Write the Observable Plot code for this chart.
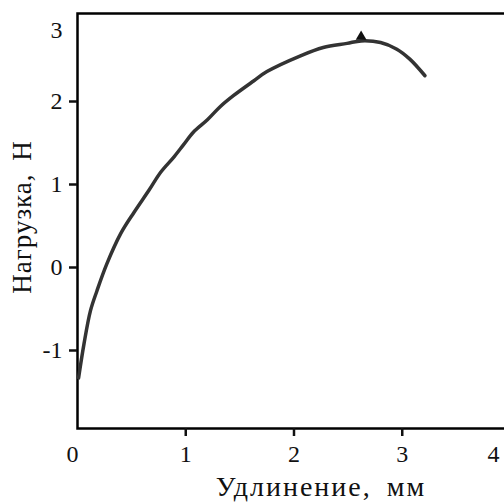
<!DOCTYPE html>
<html>
<head>
<meta charset="utf-8">
<script src="https://cdn.jsdelivr.net/npm/d3@7"></script>
<script src="https://cdn.jsdelivr.net/npm/@observablehq/plot@0.6"></script>
<style>
html, body { margin: 0; padding: 0; overflow: hidden; background: #fff; }
</style>
</head>
<body>
<div id="chart"></div>
<script>
const elongation = [0.01, 0.06, 0.12, 0.18, 0.27, 0.40, 0.52, 0.66, 0.77, 0.89, 0.98, 1.07, 1.20, 1.32, 1.44, 1.63, 1.75, 2.06, 2.27, 2.49, 2.62, 2.80, 2.95, 3.07, 3.21];
const load =       [-1.39, -0.98, -0.58, -0.34, -0.02, 0.35, 0.60, 0.87, 1.09, 1.27, 1.42, 1.57, 1.72, 1.88, 2.01, 2.19, 2.30, 2.49, 2.59, 2.64, 2.67, 2.65, 2.57, 2.45, 2.25];
const peak = [{x: 2.62, y: 2.72}];
const xTicks = [1, 2, 3];
const yTicks = [-1, 0, 1, 2];
const xTitle = "Удлинение, мм";
const yTitle = "Нагрузка, Н";

const data = elongation.map((x, i) => ({x, y: load[i]}));
const font = "'Liberation Serif', 'Times New Roman', serif";
const fmt = d => d < 0 ? "-" + Math.abs(d) : String(d);

const chart = Plot.plot({
  width: 504,
  height: 502,
  marginTop: 13,
  marginBottom: 74,
  marginLeft: 77,
  marginRight: -6,
  style: {fontFamily: font, fontSize: "24px", color: "#111", background: "#fff"},
  x: {domain: [0, 4]},
  y: {domain: [-2, 3]},
  marks: [
    Plot.frame({stroke: "#000", strokeWidth: 2.5}),
    Plot.axisX(xTicks, {tickSize: 8, tickPadding: 8, strokeWidth: 2.5, fontSize: 24, fontFamily: font, tickFormat: fmt, label: null}),
    Plot.axisX([0], {tickSize: 0, tickPadding: 16, dx: -5, fontSize: 24, fontFamily: font, tickFormat: fmt, label: null}),
    Plot.axisX([4], {tickSize: 0, tickPadding: 16, dx: -17, fontSize: 24, fontFamily: font, tickFormat: fmt, label: null}),
    Plot.axisY(yTicks, {tickSize: 8, tickPadding: 7, dy: 5, strokeWidth: 2.5, fontSize: 24, fontFamily: font, tickFormat: fmt, label: null}),
    Plot.axisY([3], {tickSize: 0, tickPadding: 15, dy: 17, fontSize: 24, fontFamily: font, tickFormat: fmt, label: null}),
    Plot.line(data, {x: "x", y: "y", stroke: "#333", strokeWidth: 3.5, curve: "catmull-rom"}),
    Plot.dot(peak, {x: "x", y: "y", symbol: "triangle", r: 4, fill: "#111", stroke: "none"}),
    Plot.text([xTitle], {frameAnchor: "bottom", textAnchor: "middle", lineAnchor: "middle", dy: 59, dx: 27, fontSize: 28, fontFamily: font, fill: "#111"}),
    Plot.text([yTitle], {frameAnchor: "left", textAnchor: "middle", lineAnchor: "middle", dx: -55, dy: -4, rotate: -90, fontSize: 27, fontFamily: font, fill: "#111"})
  ]
});
d3.select(chart).selectAll("text")
  .filter(function() { return this.textContent === xTitle; })
  .style("letter-spacing", "2px").style("word-spacing", "6px");
d3.select(chart).selectAll("text")
  .filter(function() { return this.textContent === yTitle; })
  .style("letter-spacing", "1px").style("word-spacing", "5px");
document.getElementById("chart").append(chart);
</script>
</body>
</html>
